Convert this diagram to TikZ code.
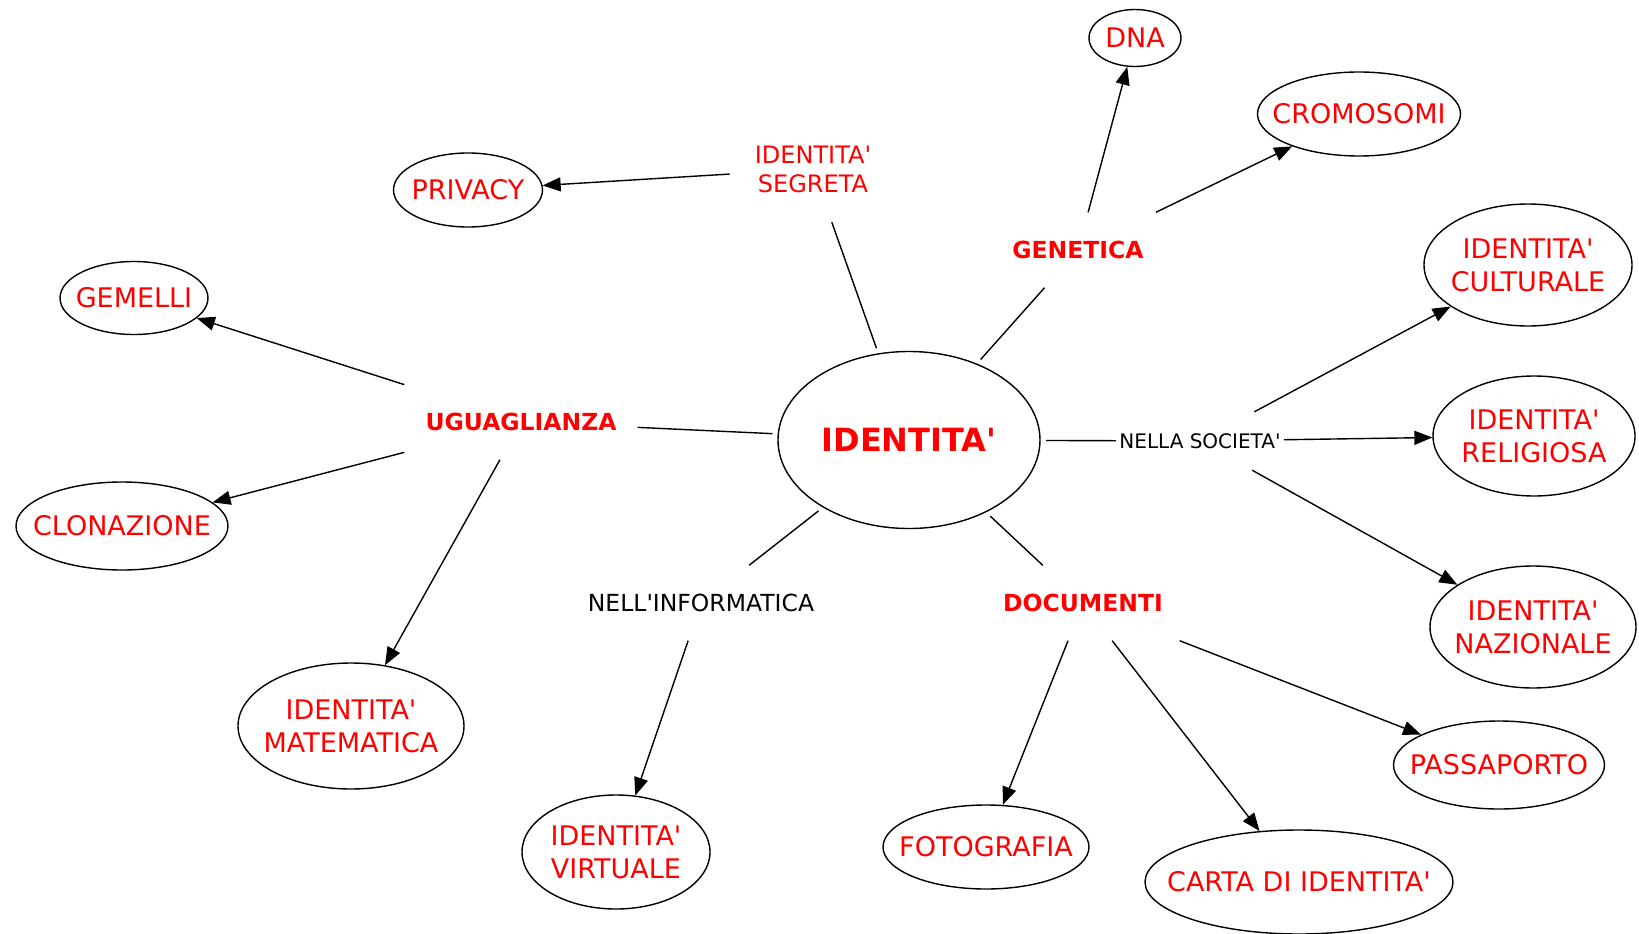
\documentclass[tikz,border=0pt]{standalone}
\usepackage{fontspec}
\setmainfont{DejaVu Sans}[Ligatures=TeXOff]
\usetikzlibrary{arrows.meta,shapes.geometric}
\definecolor{tred}{RGB}{255,0,0}
\begin{document}
\begin{tikzpicture}[x=1pt,y=-1pt,
  ell/.style={draw, ellipse, line width=1.4pt, inner xsep=-40pt, inner ysep=-10pt, text=tred,
    align=center, font=\fontsize{27}{33}\selectfont},
  lab/.style={inner xsep=21pt, inner ysep=0pt, minimum height=75pt, text=tred,
    font=\fontsize{23.5}{28}\selectfont\bfseries},
  con/.style={line width=1.4pt},
  arr/.style={con, -{Triangle[length=18pt,width=14pt]}}
]
\useasboundingbox (0,0) rectangle (1639,934);
% central
\node[ell, minimum width=262pt, minimum height=177pt, outer sep=6pt,
  font=\fontsize{32}{36}\selectfont\bfseries] (id) at (909,440) {IDENTITA'};
% labels
\node[lab, inner xsep=25pt, minimum height=106pt, align=center,
  font=\fontsize{24}{29}\selectfont] (seg) at (813,169) {IDENTITA'\\SEGRETA};
\node[lab] (gen) at (1078,250) {GENETICA};
\node[lab] (ugu) at (521,422) {UGUAGLIANZA};
\node[lab, text=black, font=\fontsize{23.5}{28}\selectfont] (inf) at (701,603) {NELL'INFORMATICA};
\node[lab] (doc) at (1083,603) {DOCUMENTI};
\node[lab, text=black, inner xsep=3pt, minimum height=58pt,
  font=\fontsize{20}{24}\selectfont] (soc) at (1200,441) {NELLA SOCIETA'};
% ellipses
\node[ell, minimum width=92pt, minimum height=57pt] (dna) at (1135,38) {DNA};
\node[ell, minimum width=203pt, minimum height=84pt] (cro) at (1359,114) {CROMOSOMI};
\node[ell, minimum width=149pt, minimum height=74pt] (pri) at (468,190) {PRIVACY};
\node[ell, minimum width=148pt, minimum height=73pt] (gem) at (134,298) {GEMELLI};
\node[ell, minimum width=212pt, minimum height=88pt] (clo) at (122,526) {CLONAZIONE};
\node[ell, minimum width=226pt, minimum height=126pt] (mat) at (351,726) {IDENTITA'\\MATEMATICA};
\node[ell, minimum width=188pt, minimum height=114pt] (vir) at (616,852) {IDENTITA'\\VIRTUALE};
\node[ell, minimum width=206pt, minimum height=84pt] (fot) at (986,847) {FOTOGRAFIA};
\node[ell, minimum width=308pt, minimum height=104pt] (car) at (1299,882) {CARTA DI IDENTITA'};
\node[ell, minimum width=211pt, minimum height=88pt] (pas) at (1499,765) {PASSAPORTO};
\node[ell, minimum width=206pt, minimum height=122pt] (naz) at (1533,627) {IDENTITA'\\NAZIONALE};
\node[ell, minimum width=202pt, minimum height=120pt] (rel) at (1534,436) {IDENTITA'\\RELIGIOSA};
\node[ell, minimum width=208pt, minimum height=122pt] (cul) at (1528,265) {IDENTITA'\\CULTURALE};
% connectors from centre
\draw[con] (id) -- (seg);
\draw[con] (id) -- (gen);
\draw[con] (id) -- (ugu);
\draw[con] (id) -- (inf);
\draw[con] (id) -- (doc);
\draw[con] (id) -- (soc);
% arrows
\draw[arr] (seg) -- (pri);
\draw[arr] (gen) -- (dna);
\draw[arr] (gen) -- (cro);
\draw[arr] (ugu) -- (gem);
\draw[arr] (ugu) -- (clo);
\draw[arr] (ugu) -- (mat);
\draw[arr] (inf) -- (vir);
\draw[arr] (doc) -- (fot);
\draw[arr] (doc) -- (car);
\draw[arr] (doc) -- (pas);
\draw[arr] (soc) -- (cul);
\draw[arr] (soc) -- (rel);
\draw[arr] (soc) -- (naz);
\end{tikzpicture}
\end{document}
